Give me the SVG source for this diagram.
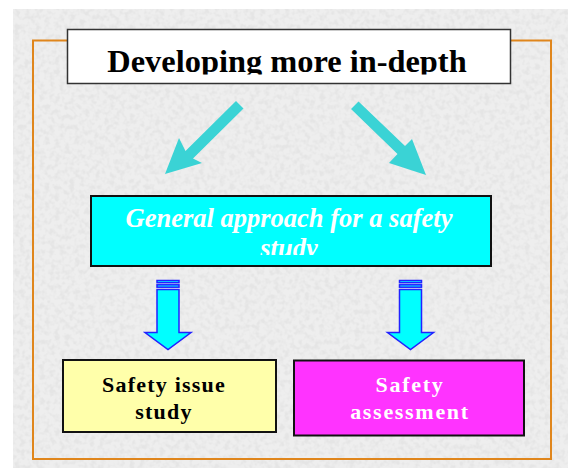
<svg xmlns="http://www.w3.org/2000/svg" width="568" height="468" viewBox="0 0 568 468">
  <defs>
    <filter id="grain" x="0" y="0" width="100%" height="100%">
      <feTurbulence type="fractalNoise" baseFrequency="0.2" numOctaves="2" seed="3" result="n"/>
      <feColorMatrix in="n" type="matrix" values="0 0 0 0 0.78  0 0 0 0 0.78  0 0 0 0 0.78  0 0 0 -3 1.75"/>
    </filter>
    <clipPath id="titleClip"><rect x="68" y="30" width="442" height="44.5"/></clipPath>
    <clipPath id="genClip"><rect x="92" y="197" width="398" height="58"/></clipPath>
    <g id="downArrow">
      <rect x="0" y="0" width="22" height="2.2"/>
      <rect x="0" y="4.3" width="22" height="2.4"/>
      <polygon points="0,9 22,9 22,52 34,52 11,69 -12,52 0,52"/>
    </g>
  </defs>
  <style>
    .bg { fill: #eeeeee; }
    .frame { fill: none; stroke: #e0861c; stroke-width: 2; }
    .box { stroke: #111; stroke-width: 2; }
    .diag { fill: #3ad3d5; }
    .down { fill: #00ffff; stroke: #2222ff; stroke-width: 1.5; stroke-linejoin: miter; }
    .serif { font-family: "Liberation Serif", "Times New Roman", serif; font-weight: bold; }
  </style>

  <rect x="0" y="0" width="568" height="468" fill="#ffffff"/>
  <rect class="bg" x="13" y="9" width="555" height="459"/>
  <rect x="13" y="9" width="555" height="459" filter="url(#grain)"/>

  <rect class="frame" x="33" y="40.5" width="518" height="418.5"/>

  <g id="title">
    <rect x="67.5" y="29.5" width="443" height="54" fill="#ffffff" stroke="#333" stroke-width="1.5"/>
    <text class="serif" x="287" y="72" font-size="32.4" text-anchor="middle" fill="#000" clip-path="url(#titleClip)">Developing more in-depth</text>
  </g>

  <g id="connectors">
    <g id="diag-left" class="diag">
      <polygon points="236,101 243.5,108.5 193,158.5 202,163 165,174 179,138 185.5,151"/>
    </g>
    <g id="diag-right" class="diag">
      <polygon points="351,109 358.5,101.5 405,146 412,139 426,175 389,163 397.5,154"/>
    </g>
    <use href="#downArrow" class="down" x="157" y="280.5"/>
    <use href="#downArrow" class="down" x="399.5" y="280.5"/>
  </g>

  <g id="general">
    <rect class="box" x="91" y="196" width="400" height="70" fill="#00ffff"/>
    <g clip-path="url(#genClip)" fill="#ffffff" font-style="italic" class="serif" font-size="26.5" text-anchor="middle">
      <text x="289" y="227">General approach for a safety</text>
      <text x="289" y="257">study</text>
    </g>
  </g>

  <g id="issue">
    <rect class="box" x="63" y="360" width="213" height="72" fill="#ffffaa"/>
    <g class="serif" font-size="22" letter-spacing="1.2" text-anchor="middle" fill="#000">
      <text x="164" y="392">Safety issue</text>
      <text x="164" y="419">study</text>
    </g>
  </g>

  <g id="assessment">
    <rect class="box" x="294" y="360.5" width="230" height="75" fill="#ff33ff"/>
    <g class="serif" font-size="22" letter-spacing="1.7" text-anchor="middle" fill="#ffffff">
      <text x="410" y="392">Safety</text>
      <text x="410" y="419">assessment</text>
    </g>
  </g>
</svg>
